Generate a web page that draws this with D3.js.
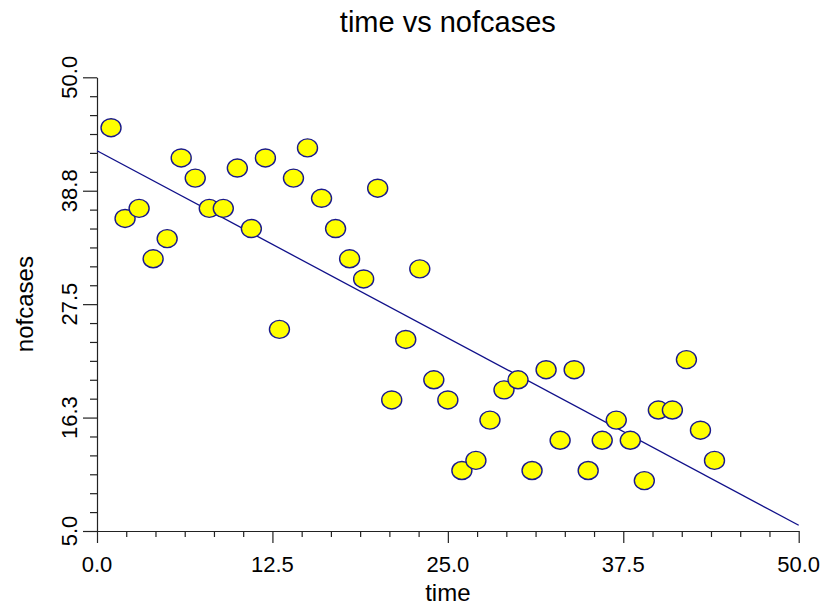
<!DOCTYPE html>
<html>
<head>
<meta charset="utf-8">
<script src="https://cdn.jsdelivr.net/npm/d3@7"></script>
<style>
  body { margin: 0; background: #fff; }
  text { font-family: "Liberation Sans", Arial, sans-serif; fill: #000; }
</style>
</head>
<body>
<div id="chart"></div>
<script>
// data
const time = [1, 2, 3, 4, 5, 6, 7, 8, 9, 10, 11, 12, 13, 14, 15, 16, 17, 18, 19, 20, 21, 22,
  23, 24, 25, 26, 27, 28, 29, 30, 31, 32, 33, 34, 35, 36, 37, 38, 39, 40, 41, 42, 43, 44];
const nofcases = [45, 36, 37, 32, 34, 42, 40, 37, 37, 41, 35, 42, 25, 40, 43, 38, 35, 32, 30, 39, 18, 24,
  31, 20, 18, 11, 12, 16, 19, 20, 11, 21, 14, 21, 11, 14, 16, 14, 10, 17, 17, 22, 15, 12];
const xTicks = [0, 12.5, 25, 37.5, 50];
const xTickLabels = ['0.0', '12.5', '25.0', '37.5', '50.0'];
const yTicks = [5, 16.25, 27.5, 38.75, 50];
const yTickLabels = ['5.0', '16.3', '27.5', '38.8', '50.0'];

const width = 824, height = 605;
const plotL = 97, plotR = 798.7, plotT = 77.3, plotB = 531;

const svg = d3.select('#chart').append('svg')
  .attr('width', width)
  .attr('height', height);

const x = d3.scaleLinear().domain([0, 50]).range([plotL, plotR]);
const y = d3.scaleLinear().domain([5, 50]).range([plotB, plotT]);

// minor ticks: 6 steps between major ticks
const minor = (ticks) => {
  const out = [];
  for (let i = 0; i < ticks.length - 1; i++) {
    const step = (ticks[i + 1] - ticks[i]) / 6;
    for (let k = 1; k < 6; k++) out.push(ticks[i] + k * step);
  }
  return out;
};

// regression line (least squares)
const n = time.length;
const mx = d3.mean(time), my = d3.mean(nofcases);
let sxy = 0, sxx = 0;
for (let i = 0; i < n; i++) {
  sxy += (time[i] - mx) * (nofcases[i] - my);
  sxx += (time[i] - mx) ** 2;
}
const slope = sxy / sxx;
const icpt = my - slope * mx;

// x axis
svg.append('g')
  .attr('transform', `translate(0,${plotB})`)
  .call(d3.axisBottom(x).tickValues(minor(xTicks)).tickSize(6).tickFormat('').tickSizeOuter(0))
  .call(g => g.select('.domain').remove());
svg.append('g')
  .attr('transform', `translate(0,${plotB})`)
  .call(d3.axisBottom(x).tickValues(xTicks).tickSize(12).tickFormat('').tickSizeOuter(0));

// y axis
svg.append('g')
  .attr('transform', `translate(${plotL},0)`)
  .call(d3.axisLeft(y).tickValues(minor(yTicks)).tickSize(7).tickFormat('').tickSizeOuter(0))
  .call(g => g.select('.domain').remove());
svg.append('g')
  .attr('transform', `translate(${plotL},0)`)
  .call(d3.axisLeft(y).tickValues(yTicks).tickSize(14).tickFormat('').tickSizeOuter(0));

svg.selectAll('.domain, .tick line').attr('stroke', '#222').attr('stroke-width', 1.2);

// tick labels
svg.selectAll('.xlab')
  .data(xTicks)
  .enter().append('text')
  .attr('x', d => x(d))
  .attr('y', 572)
  .attr('text-anchor', 'middle')
  .style('font-size', '22px')
  .text((d, i) => xTickLabels[i]);

svg.selectAll('.ylab')
  .data(yTicks)
  .enter().append('text')
  .attr('transform', d => `translate(77,${y(d)}) rotate(-90)`)
  .attr('text-anchor', 'middle')
  .style('font-size', '22px')
  .text((d, i) => yTickLabels[i]);

// fitted line
svg.append('line')
  .attr('x1', x(0)).attr('y1', y(icpt))
  .attr('x2', x(50)).attr('y2', y(icpt + slope * 50))
  .attr('stroke', '#10108a')
  .attr('stroke-width', 1.3);

// points
svg.selectAll('ellipse')
  .data(time)
  .enter().append('ellipse')
  .attr('cx', d => x(d))
  .attr('cy', (d, i) => y(nofcases[i]))
  .attr('rx', 10)
  .attr('ry', 9)
  .attr('fill', '#ffff00')
  .attr('stroke', '#1a1a8c')
  .attr('stroke-width', 1.4);

// titles
svg.append('text')
  .attr('x', (plotL + plotR) / 2)
  .attr('y', 32)
  .attr('text-anchor', 'middle')
  .style('font-size', '29px')
  .text('time vs nofcases');

svg.append('text')
  .attr('x', (plotL + plotR) / 2)
  .attr('y', 601)
  .attr('text-anchor', 'middle')
  .style('font-size', '24px')
  .text('time');

svg.append('text')
  .attr('transform', `translate(33,${(plotT + plotB) / 2}) rotate(-90)`)
  .attr('text-anchor', 'middle')
  .style('font-size', '24px')
  .text('nofcases');
</script>
</body>
</html>
